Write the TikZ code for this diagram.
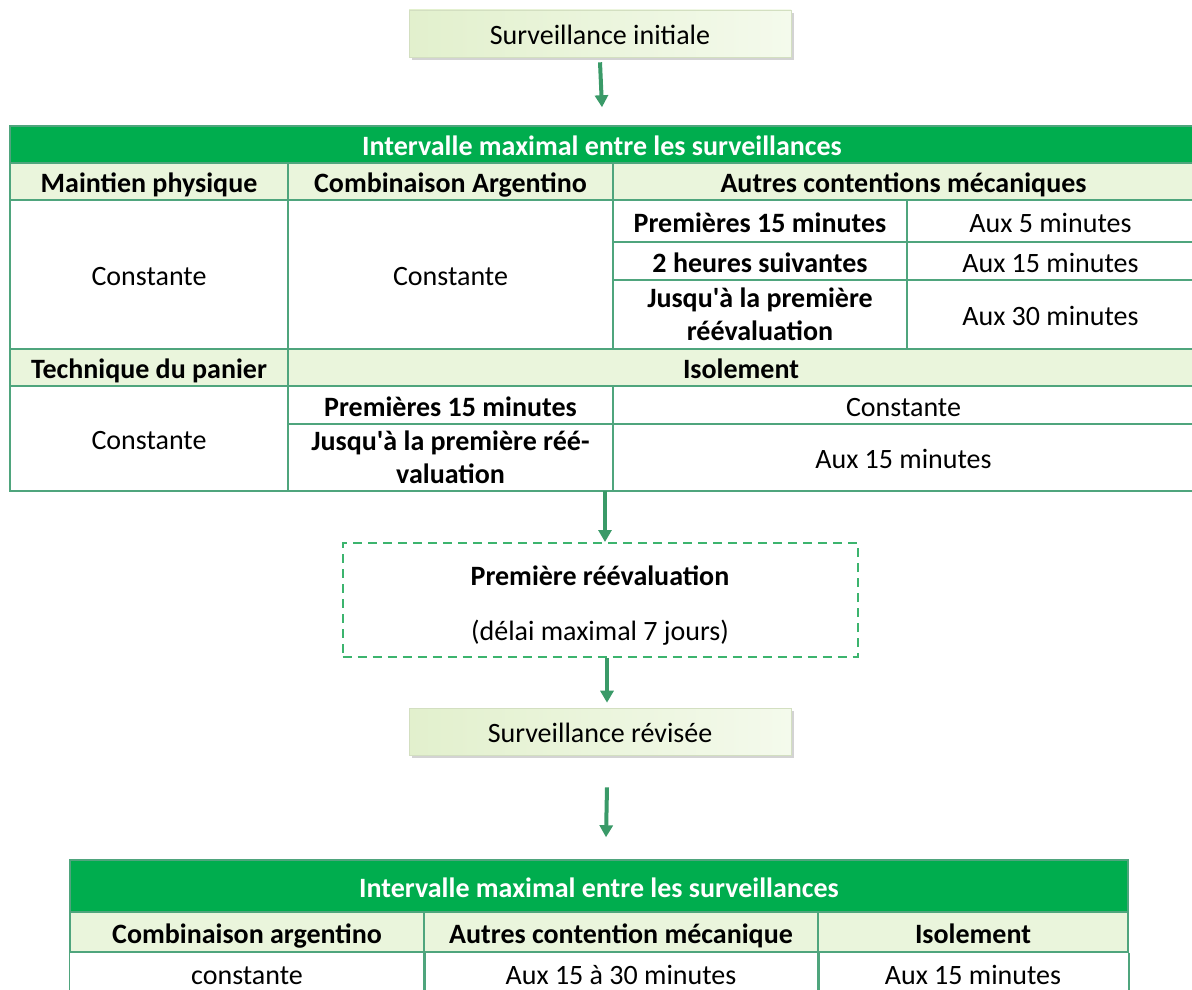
\documentclass[tikz,border=0pt]{standalone}
\usepackage{fontspec}
\setmainfont{Carlito}
\usepackage{tikz}
\usetikzlibrary{arrows.meta,positioning,shadows,calc}
\definecolor{hdr}{HTML}{00AD4E}
\definecolor{subfill}{HTML}{EAF5DC}
\definecolor{rule}{HTML}{4FA57D}
\definecolor{flowc}{HTML}{3A9A68}
\definecolor{dashc}{HTML}{3CB46E}
\definecolor{boxa}{HTML}{E2F0CD}
\definecolor{boxb}{HTML}{F4FAEC}
\tikzset{
  txt/.style={font=\fontsize{28}{33}\selectfont, align=center, inner sep=0pt, text height=24pt, text depth=2pt},
  two/.style={text height={}, text depth={}},
  cell/.style={txt, draw=rule, line width=1.5pt},
  rulel/.style={draw=rule, line width=1.5pt},
  b/.style={font=\fontsize{28}{33}\selectfont\bfseries},
  sh/.style={b, fill=subfill},
  hd/.style={b, fill=hdr, text=white},
  stage/.style={txt, minimum width=382pt, minimum height=47pt, left color=boxa, right color=boxb,
    draw=boxa!85!gray, line width=0.6pt, drop shadow={shadow xshift=3pt, shadow yshift=-3pt, opacity=0.35}},
  dashbox/.style={draw=dashc, line width=2pt, dash pattern=on 9pt off 6pt, minimum width=515pt, minimum height=114pt},
  flow/.style={-{Triangle[width=13pt,length=12pt]}, line width=4pt, draw=flowc},
}
% cell: name, x1, y1, x2, y2, text
\newcommand{\cell}[7][]{%
  \node[cell, #1, minimum width={#5-#3}, minimum height={#6-#4}] (#2) at ({(#3+#5)/2},{(#4+#6)/2}) {#7};}
\newcommand{\q}{\textquotesingle}

\begin{document}
\begin{tikzpicture}[x=1pt,y=-1pt]
  \useasboundingbox (0,0) rectangle (1192,990);

  \node[stage] (init) at (600,33.5) {Surveillance initiale};

  % first table
  \cell[hd]{tAhead}{10}{126}{1194}{163}{Intervalle maximal entre les surveillances}
  \cell[sh]{tAmain}{10}{163}{288}{200}{Maintien physique}
  \cell[sh]{tAarg}{288}{163}{613}{200}{Combinaison Argentino}
  \cell[sh]{tAmeca}{613}{163}{1194}{200}{Autres contentions mécaniques}
  \cell{tAmainv}{10}{200}{288}{349}{Constante}
  \cell{tAargv}{288}{200}{613}{349}{Constante}
  \cell[b]{tAp1}{613}{200}{907}{242}{Premières 15 minutes}
  \cell{tAv1}{907}{200}{1194}{242}{Aux 5 minutes}
  \cell[b]{tAp2}{613}{242}{907}{280}{2 heures suivantes}
  \cell{tAv2}{907}{242}{1194}{280}{Aux 15 minutes}
  \cell[b,two]{tAp3}{613}{280}{907}{349}{Jusqu\q à la première\\réévaluation}
  \cell{tAv3}{907}{280}{1194}{349}{Aux 30 minutes}
  \cell[sh]{tApan}{10}{349}{288}{386}{Technique du panier}
  \cell[sh]{tAiso}{288}{349}{1194}{386}{Isolement}
  \cell{tApanv}{10}{386}{288}{491}{Constante}
  \cell[b]{tAi1}{288}{386}{613}{424}{Premières 15 minutes}
  \cell{tAiv1}{613}{386}{1194}{424}{Constante}
  \cell[b,two]{tAi2}{288}{424}{613}{491}{Jusqu\q à la première réé-\\valuation}
  \cell{tAiv2}{613}{424}{1194}{491}{Aux 15 minutes}
  \coordinate (outA) at (605,491);

  \node[dashbox] (reeval) at (600,600) {};
  \node[txt, b] (reevalT) at (600,574) {Première réévaluation};
  \node[txt] (reevalD) at (600,629) {(délai maximal 7 jours)};
  \node[stage] (revised) at (600,731.5) {Surveillance révisée};

  % second table
  \cell[hd]{tBhead}{70}{860}{1128}{912}{Intervalle maximal entre les surveillances}
  \cell[sh]{tBarg}{70}{912}{424}{952}{Combinaison argentino}
  \cell[sh]{tBmeca}{424}{912}{818}{952}{Autres contention mécanique}
  \cell[sh]{tBiso}{818}{912}{1128}{952}{Isolement}
  \foreach \c in {tBarg, tBmeca, tBiso}
    \draw[rulel] (\c.south west) -- ++(0,45) (\c.south east) -- ++(0,45);
  \node[txt] (tBargv) at (tBarg |- 0,973) {constante};
  \node[txt] (tBmecav) at (tBmeca |- 0,973) {Aux 15 à 30 minutes};
  \node[txt] (tBisov) at (tBiso |- 0,973) {Aux 15 minutes};

  % arrows
  \draw[flow] ([yshift=-5pt]init.south) -- ([yshift=18pt]tAhead.north);
  \draw[flow] (outA) -- (outA |- reeval.north);
  \draw[flow] ([xshift=7pt]reeval.south) -- ([xshift=7pt,yshift=5pt]revised.north);
  \draw[flow] ([xshift=7pt,yshift=-32pt]revised.south) -- ([xshift=7pt,yshift=22pt]tBhead.north);
\end{tikzpicture}
\end{document}
